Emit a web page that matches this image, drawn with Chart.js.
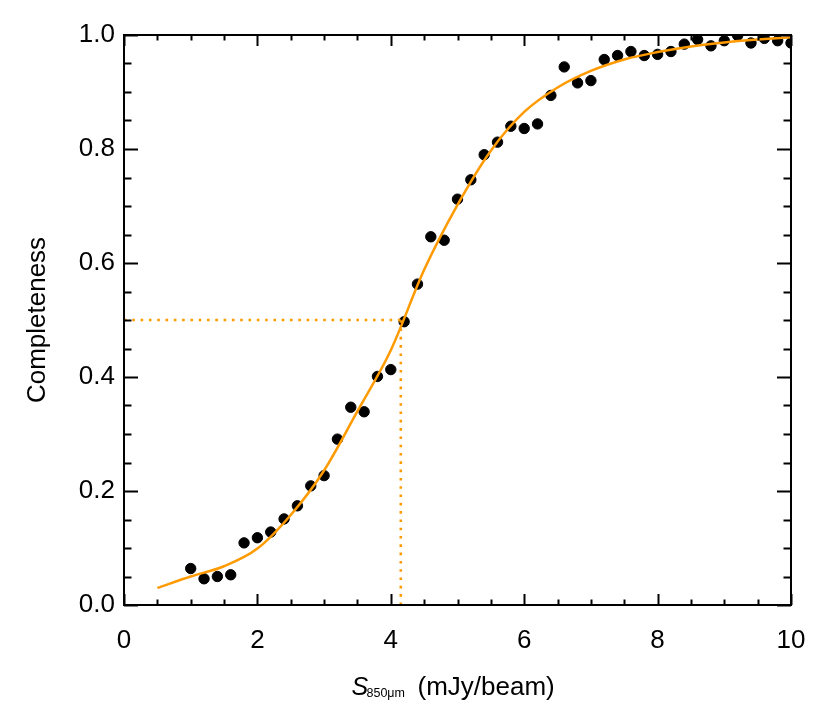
<!DOCTYPE html>
<html lang="en">
  <head>
    <meta charset="UTF-8" />
    <title>Completeness</title>
    <script src="https://cdn.jsdelivr.net/npm/chart.js"></script>
    <style>
      body { margin: 0; background: #fff; }
      canvas { display: block; }
    </style>
  </head>
  <body>
    <canvas id="compChart" width="830" height="713"></canvas>

    <script>
      // measured completeness, flux in mJy/beam
      const fluxes = [1.0, 1.2, 1.4, 1.6, 1.8, 2.0, 2.2, 2.4, 2.6, 2.8, 3.0, 3.2, 3.4, 3.6, 3.8,
        4.0, 4.2, 4.4, 4.6, 4.8, 5.0, 5.2, 5.4, 5.6, 5.8, 6.0, 6.2, 6.4, 6.6, 6.8, 7.0,
        7.2, 7.4, 7.6, 7.8, 8.0, 8.2, 8.4, 8.6, 8.8, 9.0, 9.2, 9.4, 9.6, 9.8, 10.0];
      const completeness = [0.064, 0.046, 0.050, 0.053, 0.109, 0.118, 0.128, 0.151, 0.174, 0.209,
        0.227, 0.291, 0.347, 0.339, 0.401, 0.413, 0.497, 0.563, 0.646, 0.640, 0.712, 0.746,
        0.790, 0.812, 0.840, 0.836, 0.844, 0.894, 0.944, 0.916, 0.920, 0.957, 0.964, 0.971,
        0.964, 0.966, 0.971, 0.984, 0.992, 0.981, 0.990, 0.999, 0.986, 0.994, 0.990, 0.986];

      // fitted curve
      const fitFlux = [0.5, 1.0, 1.5, 2.0, 2.5, 3.0, 3.5, 4.0, 4.5, 5.0, 5.5, 6.0, 6.5,
        7.0, 7.5, 8.0, 8.5, 9.0, 9.5, 10.0];
      const fitComp = [0.030, 0.050, 0.068, 0.099, 0.158, 0.236, 0.340, 0.447, 0.588, 0.702,
        0.797, 0.865, 0.908, 0.937, 0.957, 0.970, 0.980, 0.987, 0.992, 0.996];

      // 50% completeness marker
      const halfFlux = 4.15;
      const halfComp = 0.5;

      const orange = "#ff9a00";
      const font = "'Liberation Sans', Arial, Helvetica, sans-serif";

      const toXY = (xs, ys) => xs.map((x, i) => ({ x: x, y: ys[i] }));

      // inward ticks on all four sides + box + axis titles
      const framePlugin = {
        id: "frame",
        afterDraw(chart) {
          const ctx = chart.ctx;
          const a = chart.chartArea;
          const xs = chart.scales.x;
          const ys = chart.scales.y;
          ctx.save();
          ctx.strokeStyle = "#000";
          ctx.lineWidth = 2;
          ctx.beginPath();
          for (let i = 0; i <= 20; i++) {
            const v = i * 0.5;
            const px = Math.round(xs.getPixelForValue(v)) + 0.5;
            const len = i % 4 === 0 ? 11 : 5.5;
            ctx.moveTo(px, a.bottom);
            ctx.lineTo(px, a.bottom - len);
            ctx.moveTo(px, a.top);
            ctx.lineTo(px, a.top + len);
          }
          for (let i = 0; i <= 20; i++) {
            const v = i * 0.05;
            const py = Math.round(ys.getPixelForValue(v)) + 0.5;
            const len = i % 4 === 0 ? 14 : 7.5;
            ctx.moveTo(a.left, py);
            ctx.lineTo(a.left + len, py);
            ctx.moveTo(a.right, py);
            ctx.lineTo(a.right - len, py);
          }
          ctx.stroke();
          ctx.strokeRect(a.left, a.top, a.right - a.left, a.bottom - a.top);

          // y title
          ctx.fillStyle = "#000";
          ctx.save();
          ctx.translate(38, (a.top + a.bottom) / 2);
          ctx.rotate(-Math.PI / 2);
          ctx.font = "26px " + font;
          ctx.textAlign = "center";
          ctx.textBaseline = "middle";
          ctx.fillText("Completeness", 0, 0);
          ctx.restore();

          // x title: S_850μm (mJy/beam)
          const cx = (a.left + a.right) / 2;
          const base = 695;
          ctx.textBaseline = "alphabetic";
          ctx.textAlign = "left";
          ctx.font = "italic 25px " + font;
          ctx.fillText("S", cx - 106, base);
          ctx.font = "12.5px " + font;
          ctx.fillText("850\u03bcm", cx - 91, base + 2);
          ctx.font = "26px " + font;
          ctx.fillText("(mJy/beam)", cx - 40, base);
          ctx.restore();
        },
      };

      const ctx = document.getElementById("compChart").getContext("2d");
      const compChart = new Chart(ctx, {
        type: "scatter",
        data: {
          datasets: [
            {
              type: "line",
              label: "fit",
              data: toXY(fitFlux, fitComp),
              borderColor: orange,
              borderWidth: 2.5,
              pointRadius: 0,
              fill: false,
              cubicInterpolationMode: "monotone",
            },
            {
              type: "line",
              label: "50% flux",
              data: [{ x: 0, y: halfComp }, { x: halfFlux, y: halfComp }],
              borderColor: orange,
              borderWidth: 2.6,
              borderDash: [2.6, 5.7],
              pointRadius: 0,
              fill: false,
            },
            {
              type: "line",
              label: "50% level",
              data: [{ x: halfFlux, y: 0 }, { x: halfFlux, y: halfComp }],
              borderColor: orange,
              borderWidth: 2.6,
              borderDash: [2.6, 5.7],
              pointRadius: 0,
              fill: false,
            },
            {
              label: "completeness",
              data: toXY(fluxes, completeness),
              backgroundColor: "#000",
              borderColor: "#000",
              pointRadius: 5.2,
              pointHoverRadius: 5.2,
            },
          ],
        },
        options: {
          responsive: false,
          animation: false,
          layout: { padding: { top: 35, right: 39, left: 0, bottom: 0 } },
          plugins: {
            legend: { display: false },
            tooltip: { enabled: false },
          },
          scales: {
            x: {
              type: "linear",
              min: 0,
              max: 10,
              grid: { display: false, drawTicks: false },
              border: { display: false },
              ticks: {
                stepSize: 2,
                padding: 20,
                color: "#000",
                maxRotation: 0,
                font: { family: font, size: 26 },
              },
              afterFit(scale) { scale.height = 108; },
            },
            y: {
              type: "linear",
              min: 0,
              max: 1,
              grid: { display: false, drawTicks: false },
              border: { display: false },
              ticks: {
                stepSize: 0.2,
                padding: 9,
                color: "#000",
                font: { family: font, size: 26 },
                callback: (v) => v.toFixed(1),
              },
              afterFit(scale) { scale.width = 124; },
            },
          },
        },
        plugins: [framePlugin],
      });
    </script>
  </body>
</html>
